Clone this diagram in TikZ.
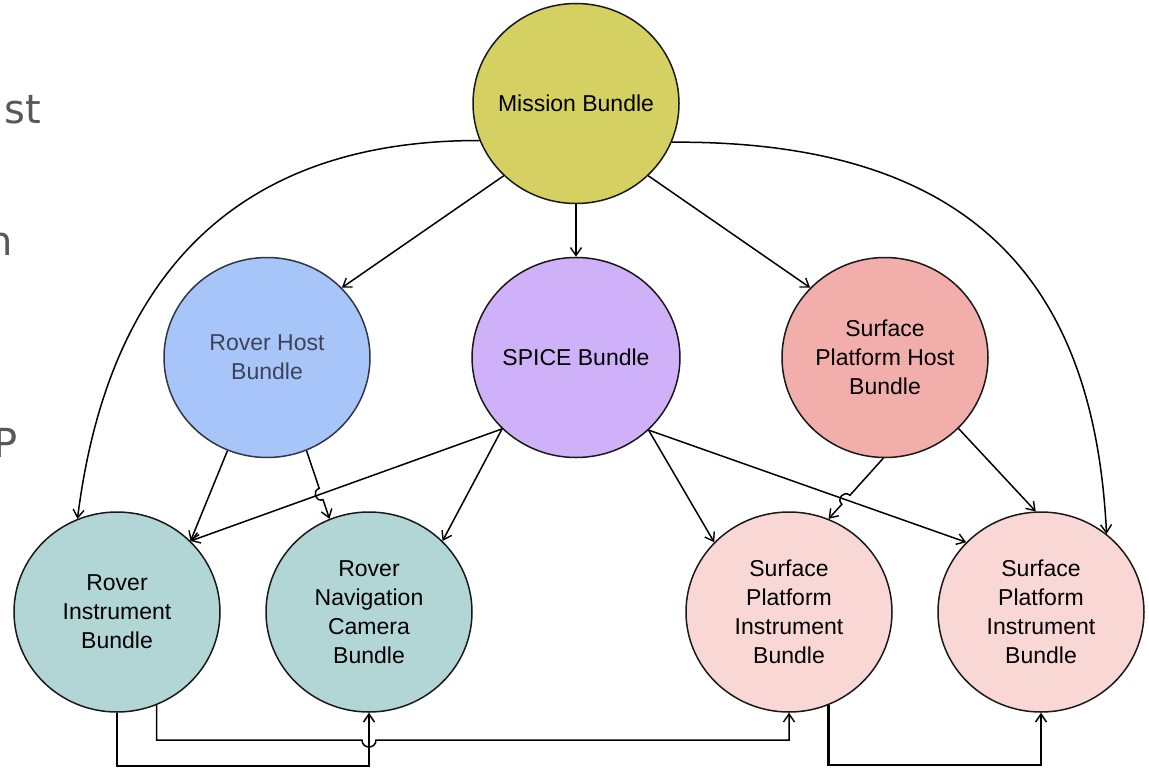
\documentclass[tikz,border=0pt]{standalone}
\usepackage{fontspec}
\setmainfont{Liberation Sans}
\newfontfamily\slidefont{DejaVu Sans}
\usetikzlibrary{shapes.geometric,arrows.meta,calc}

\definecolor{missionfill}{HTML}{D5D062}
\definecolor{roverhostfill}{HTML}{A8C5F9}
\definecolor{spicefill}{HTML}{CEB1F8}
\definecolor{sphostfill}{HTML}{F2AEAB}
\definecolor{roverfill}{HTML}{B2D5D6}
\definecolor{spinstfill}{HTML}{F9D7D5}
\definecolor{hosttext}{HTML}{3C4356}
\definecolor{slidegray}{HTML}{58585B}

\begin{document}
\begin{tikzpicture}[x=1pt,y=-1pt,
  bundle/.style={ellipse, draw=black!90, line width=1.5pt,
    minimum width=206pt, minimum height=200pt, inner sep=0pt,
    align=center, font=\fontsize{23}{29}\selectfont},
  link/.style={line width=1.5pt,
    -{Straight Barb[length=8pt,width=11pt,line width=1.4pt]}},
  heavy/.style={line width=2.5pt,
    -{Straight Barb[length=8pt,width=11pt,line width=1.5pt]}},
  frag/.style={anchor=base east, inner sep=0pt, text=slidegray,
    font=\slidefont\fontsize{40}{48}\selectfont}]

\useasboundingbox (0,0) rectangle (1149,769);

% slide text cut off at the left edge
\node[frag] (f1) at (41,123) {st};
\node[frag] (f2) at (13,255) {n};
\node[frag] (f3) at (18,457) {P};

% bundles
\node[bundle, fill=missionfill, inner xsep=-14pt] (mis) at (576,103.5) {Mission Bundle};
\node[bundle, fill=roverhostfill, draw=hosttext!80!black, text=hosttext] (rh) at (267,357.5) {Rover Host\\Bundle};
\node[bundle, fill=spicefill] (sp) at (576,357.5) {SPICE Bundle};
\node[bundle, fill=sphostfill] (sph) at (885,357.5) {Surface\\Platform Host\\Bundle};
\node[bundle, fill=roverfill] (ri) at (117,612) {Rover\\Instrument\\Bundle};
\node[bundle, fill=roverfill] (rnc) at (369,612) {Rover\\Navigation\\Camera\\Bundle};
\node[bundle, fill=spinstfill] (spa) at (789,612) {Surface\\Platform\\Instrument\\Bundle};
\node[bundle, fill=spinstfill] (spb) at (1041,612) {Surface\\Platform\\Instrument\\Bundle};

% links from the mission bundle
\draw[link] (mis.south) -- (sp.north);
\draw[link] (mis.225) -- (rh.43);
\draw[link] (mis.-45) -- (sph.137);
\draw[link] (mis.201) .. controls (215,140) and (105,300) .. (ri.113);
\draw[link] (mis.-22) .. controls (990,140) and (1095,300) .. (spb.50);

% host and SPICE links
\draw[link] (rh.247) -- (ri.44);
\draw[link] (sp.224) -- (ri.44);
\draw[link] (sp.224) -- (rnc.44);
\draw[link] (sp.-45) -- (spa.137);
\draw[link] (sp.-45) -- (spb.137);
\draw[link] (sph.-44) -- (spb.93);

% links with a jump over a crossing line
\coordinate (xa) at (intersection of rh.293--rnc.113 and sp.224--ri.44);
\coordinate (xa1) at ($(xa)!6pt!(rh.293)$);
\coordinate (xa2) at ($(xa)!6pt!(rnc.113)$);
\draw[link] (rh.293) -- (xa1)
  .. controls ($(xa1)!1.33!-90:(xa)$) and ($(xa2)!1.33!90:(xa)$) .. (xa2)
  -- (rnc.113);

\coordinate (xb) at (intersection of sph.269--spa.67 and sp.-45--spb.137);
\coordinate (xb1) at ($(xb)!6pt!(sph.269)$);
\coordinate (xb2) at ($(xb)!6pt!(spa.67)$);
\draw[link] (sph.269) -- (xb1)
  .. controls ($(xb1)!1.33!-90:(xb)$) and ($(xb2)!1.33!90:(xb)$) .. (xb2)
  -- (spa.67);

% bottom routing
\draw[heavy] (ri.south) -- (ri.south |- 0,766) -| (rnc.south);
\draw[heavy] (spa.293) -- (spa.293 |- 0,765) -| (spb.south);
\coordinate (hx) at (rnc.south |- 0,740);
\draw[link] (ri.293) |- ($(hx)+(-7,0)$)
  .. controls ($(hx)+(-7,9.3)$) and ($(hx)+(7,9.3)$) .. ($(hx)+(7,0)$)
  -| (spa.south);
\end{tikzpicture}
\end{document}
